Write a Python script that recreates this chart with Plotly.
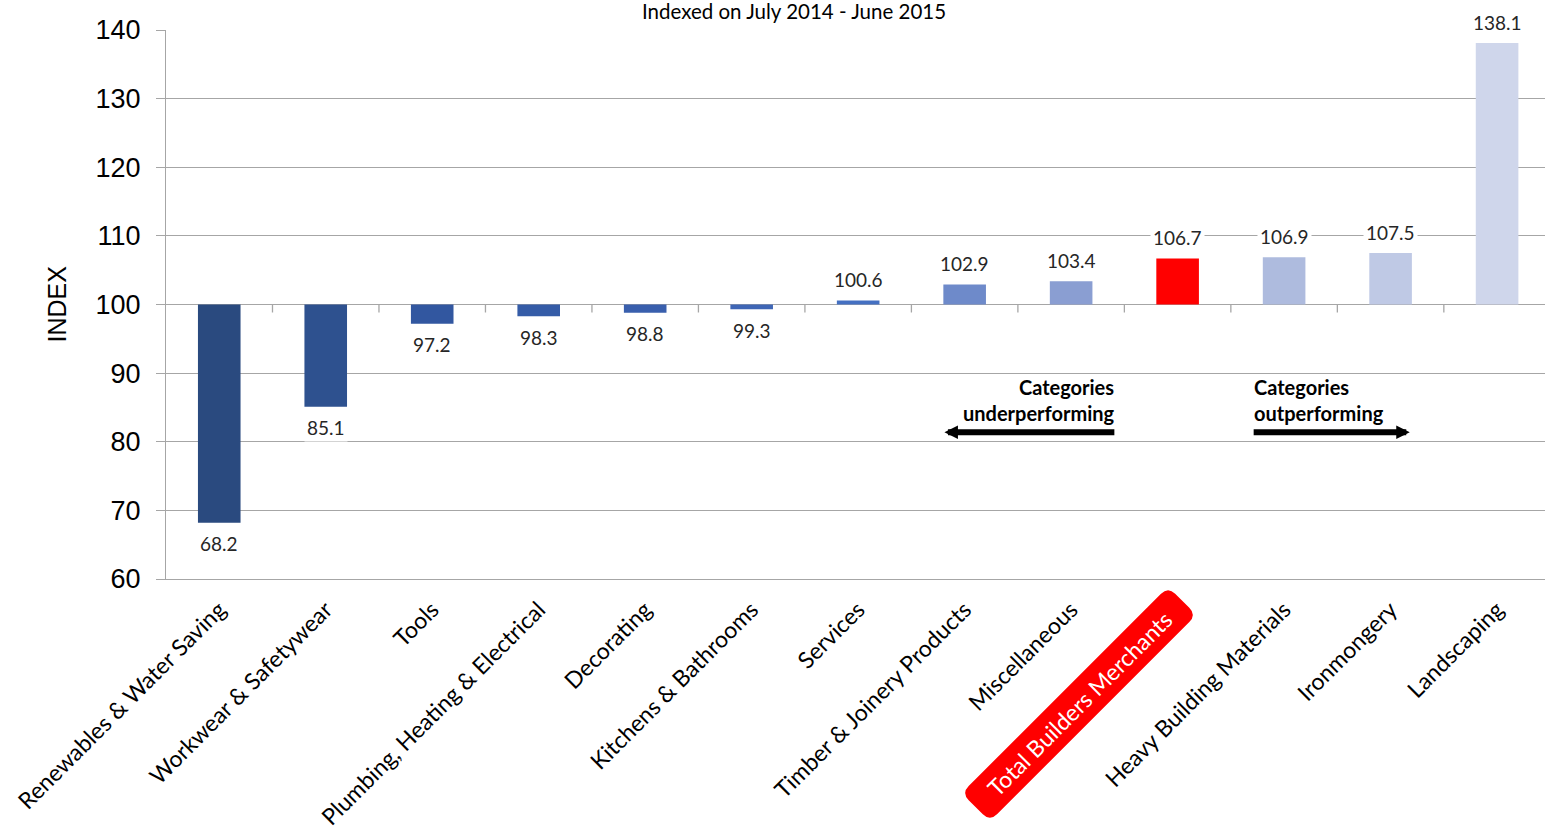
import math
import plotly.graph_objects as go

# Category index values (base = 100)
categories = [
    "Renewables & Water Saving", "Workwear & Safetywear", "Tools",
    "Plumbing, Heating & Electrical", "Decorating", "Kitchens & Bathrooms",
    "Services", "Timber & Joinery Products", "Miscellaneous",
    "Total Builders Merchants", "Heavy Building Materials", "Ironmongery",
    "Landscaping",
]
index_values = [68.2, 85.1, 97.2, 98.3, 98.8, 99.3, 100.6, 102.9, 103.4,
                106.7, 106.9, 107.5, 138.1]
bar_colors = ["#2A4A7F", "#2E518F", "#3257A0", "#355CA7", "#395FAD", "#3F66B6",
              "#4470C2", "#6E8ACA", "#8A9ED2", "#FF0000", "#AEBBDE", "#BFC9E5",
              "#CFD6EB"]
highlight = "Total Builders Merchants"
y_ticks = [60, 70, 80, 90, 100, 110, 120, 130, 140]

BASE = 100
LABEL_FONT = "Lato, 'Open Sans', sans-serif"
AXIS_FONT = "'Liberation Sans', Arial, sans-serif"
GRID = "#A6A6A6"

W, H = 1545, 829
ML, MR, MT, MB = 166, 0, 30, 250
PW, PH = W - ML - MR, H - MT - MB


def to_paper(px, py):
    return (px - ML) / PW, (MT + PH - py) / PH


def rounded_box_path(cx, cy, half_len, half_thick, radius, angle_deg):
    """SVG path (paper coords) of a rounded rectangle rotated about its centre."""
    t = math.radians(angle_deg)
    u = (math.cos(t), -math.sin(t))
    v = (math.sin(t), math.cos(t))

    def pt(a, b):
        x, y = to_paper(cx + a * u[0] + b * v[0], cy + a * u[1] + b * v[1])
        return f"{x:.5f},{y:.5f}"

    L, T, r = half_len, half_thick, radius
    return (f"M {pt(-L + r, -T)} L {pt(L - r, -T)} Q {pt(L, -T)} {pt(L, -T + r)} "
            f"L {pt(L, T - r)} Q {pt(L, T)} {pt(L - r, T)} "
            f"L {pt(-L + r, T)} Q {pt(-L, T)} {pt(-L, T - r)} "
            f"L {pt(-L, -T + r)} Q {pt(-L, -T)} {pt(-L + r, -T)} Z")


fig = go.Figure()
fig.add_trace(go.Bar(
    x=list(range(len(categories))),
    y=[v - BASE for v in index_values],
    base=BASE,
    width=0.4,
    marker=dict(color=bar_colors, line=dict(width=0)),
    hoverinfo="skip",
))

# value labels on a white box so they break the gridlines
annotations = []
for i, v in enumerate(index_values):
    annotations.append(dict(
        x=i, y=v, xref="x", yref="y", text=f"{v:.1f}", showarrow=False,
        xanchor="center", yanchor="middle",
        yshift=21 if v >= BASE else -21, bgcolor="white", borderpad=2,
        font=dict(family=LABEL_FONT, size=19, color="#262626"),
    ))

# highlighted category label on a red rounded badge
hi_cx, hi_cy = 1079, 704
hx, hy = to_paper(hi_cx, hi_cy)
annotations.append(dict(
    x=hx, y=hy, xref="paper", yref="paper", xanchor="center", yanchor="middle",
    text=highlight, showarrow=False, textangle=-45,
    font=dict(family=LABEL_FONT, size=23, color="white"),
))
shapes = [dict(
    type="path", xref="paper", yref="paper", layer="above",
    path=rounded_box_path(hi_cx, hi_cy, 146, 20, 10, 45),
    fillcolor="#FF0000", line=dict(width=0),
)]

# chart subtitle
annotations.append(dict(
    x=0.4555, y=to_paper(0, 11)[1], xref="paper", yref="paper",
    xanchor="center", yanchor="middle", showarrow=False,
    text="Indexed on July 2014 - June 2015",
    font=dict(family=LABEL_FONT, size=20.5, color="black"),
))

# y axis title
annotations.append(dict(
    x=to_paper(56, 0)[0], y=0.5, xref="paper", yref="paper",
    xanchor="center", yanchor="middle", showarrow=False,
    text="INDEX", textangle=-90,
    font=dict(family=AXIS_FONT, size=25, color="black"),
))

# under/outperforming notes and arrows
annotations.append(dict(
    x=8.43, y=86.1, xref="x", yref="y", xanchor="right", yanchor="middle",
    align="right", showarrow=False,
    text="<b>Categories<br>underperforming</b>",
    font=dict(family=LABEL_FONT, size=20, color="black"),
))
annotations.append(dict(
    x=9.70, y=86.1, xref="x", yref="y", xanchor="left", yanchor="middle",
    align="left", showarrow=False,
    text="<b>Categories<br>outperforming</b>",
    font=dict(family=LABEL_FONT, size=20, color="black"),
))
for head, tail in [(6.81, 8.42), (11.18, 9.70)]:
    annotations.append(dict(
        x=head, y=81.4, ax=tail, ay=81.4, xref="x", yref="y",
        axref="x", ayref="y", text="", showarrow=True,
        arrowhead=2, arrowsize=0.45, arrowwidth=6, arrowcolor="black",
    ))

# category separator ticks hanging from the 100 line
for i in range(len(categories) - 1):
    shapes.append(dict(
        type="line", xref="x", yref="y", x0=i + 0.5, x1=i + 0.5,
        ysizemode="pixel", yanchor=BASE, y0=0, y1=-8,
        line=dict(color=GRID, width=1.3),
    ))

ticktext = ["" if c == highlight else c for c in categories]

fig.update_layout(
    width=W, height=H,
    margin=dict(l=ML, r=MR, t=MT, b=MB, autoexpand=False),
    paper_bgcolor="white", plot_bgcolor="white",
    showlegend=False,
    annotations=annotations,
    shapes=shapes,
    xaxis=dict(
        range=[-0.5, 12.45], automargin=False,
        tickmode="array", tickvals=list(range(len(categories))),
        ticktext=ticktext, tickangle=-45,
        tickfont=dict(family=LABEL_FONT, size=23, color="black"),
        showgrid=False, zeroline=False,
        showline=True, linecolor=GRID, linewidth=1.3,
        ticks="", ticklabelstandoff=7,
    ),
    yaxis=dict(
        range=[60, 140], automargin=False,
        tickmode="array", tickvals=y_ticks,
        tickfont=dict(family=AXIS_FONT, size=27, color="black"),
        showgrid=True, gridcolor=GRID, gridwidth=1.3,
        zeroline=False,
        showline=True, linecolor=GRID, linewidth=1.3,
        ticks="outside", ticklen=9, tickcolor=GRID, tickwidth=1.3,
        ticklabelstandoff=10,
    ),
)

fig.write_html("out.html")
